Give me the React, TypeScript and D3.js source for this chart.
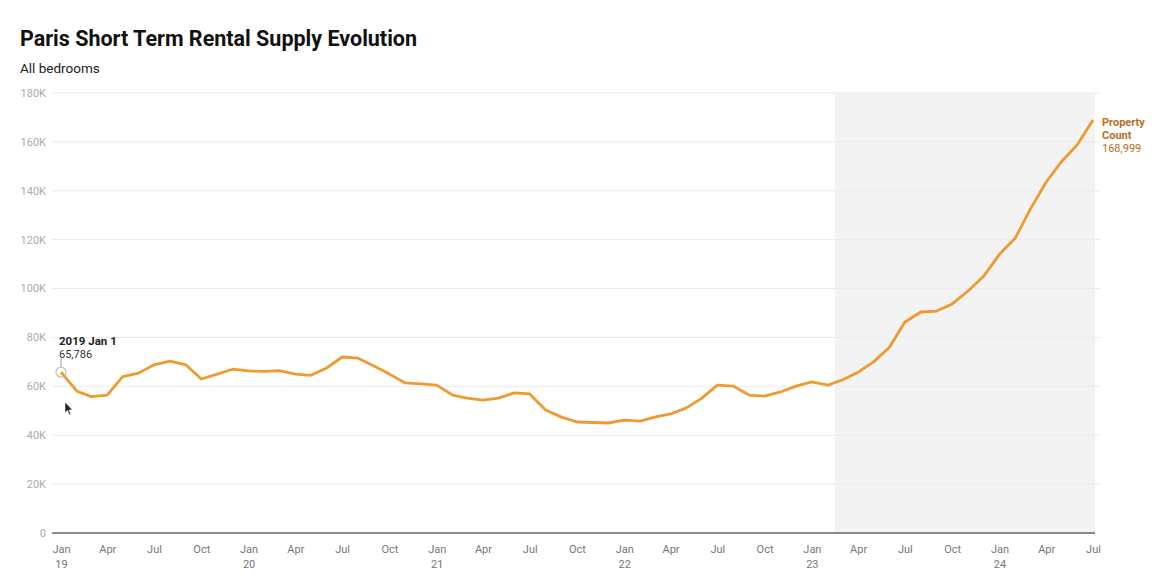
import { useEffect, useRef } from "react";
import { scaleUtc, scaleLinear, line, select, axisBottom, utcMonth, utcFormat, format } from "d3";

const startMonth = "2019-01";
const propertyCount = [
  65786, 58000, 55800, 56400, 64000, 65400, 68800, 70300, 68800, 63000, 65000, 67000,
  66300, 66100, 66400, 65000, 64500, 67500, 72000, 71500, 68300, 65000, 61400, 61000,
  60500, 56400, 55200, 54400, 55200, 57300, 56900, 50300, 47400, 45400, 45200, 45000,
  46200, 45800, 47400, 48700, 51100, 55200, 60500, 60100, 56400, 56000, 57700, 60100,
  61800, 60500, 62600, 65800, 70000, 76000, 86300, 90400, 90800, 93700, 99000, 105000,
  114000, 120700, 132500, 143600, 152000, 159000, 168999,
];
const yTicks = [0, 20000, 40000, 60000, 80000, 100000, 120000, 140000, 160000, 180000];
const shadeRange = ["2023-02-15", "2024-07-05"];
const seriesName = ["Property", "Count"];
const hoverLabel = "2019 Jan 1";

const W = 1160;
const H = 585;
const margin = { top: 93, right: 67, bottom: 52, left: 61 };
const lineColor = "#ef9a2e";
const labelColor = "#b5701f";
const font = "Roboto, 'Noto Sans', sans-serif";

const dates = propertyCount.map((_, i) =>
  utcMonth.offset(new Date(startMonth + "-01T00:00:00Z"), i)
);
const monthFmt = utcFormat("%b");
const yearFmt = utcFormat("%y");

function XAxis({ x, y }: { x: any; y: number }) {
  const ref = useRef<SVGGElement>(null);
  useEffect(() => {
    if (!ref.current) return;
    const g = select(ref.current);
    g.call(
      axisBottom(x)
        .ticks(utcMonth.every(3))
        .tickSize(0)
        .tickPadding(9)
        .tickFormat((d: any) => monthFmt(d))
    );
    g.select(".domain").remove();
    g.selectAll(".tick text")
      .attr("fill", "#777")
      .attr("font-size", 11)
      .attr("font-family", font)
      .each(function (d: any) {
        if (d.getUTCMonth() === 0) {
          select(this.parentNode as SVGGElement)
            .append("text")
            .attr("fill", "#777")
            .attr("font-size", 11)
            .attr("font-family", font)
            .attr("text-anchor", "middle")
            .attr("y", 24)
            .attr("dy", "0.71em")
            .text(yearFmt(d));
        }
      });
  }, [x]);
  return <g ref={ref} transform={`translate(0,${y})`} />;
}

export default function App() {
  const x = scaleUtc()
    .domain([dates[0], dates[dates.length - 1]])
    .range([margin.left, W - margin.right]);
  const y = scaleLinear().domain([0, 180000]).range([H - margin.bottom, margin.top]);

  const path = line<number>()
    .x((_, i) => x(dates[i]))
    .y((d) => y(d))(propertyCount);

  const shadeX0 = x(new Date(shadeRange[0]));
  const shadeX1 = x(new Date(shadeRange[1]));
  const last = propertyCount.length - 1;
  const fx = x(dates[0]);
  const fy = y(propertyCount[0]);
  const comma = format(",");

  return (
    <svg
      width={W}
      height={H}
      style={{ position: "absolute", left: 0, top: 0, background: "#fff" }}
      fontFamily={font}
    >
      <text x={20} y={46} fontSize={21.5} fontWeight={700} fill="#111">
        Paris Short Term Rental Supply Evolution
      </text>
      <text x={20} y={73} fontSize={13.5} fill="#222">
        All bedrooms
      </text>

      <rect
        x={shadeX0}
        y={y(180000)}
        width={shadeX1 - shadeX0}
        height={y(0) - y(180000)}
        fill="#f3f3f3"
      />

      {yTicks.map((t) => (
        <g key={t}>
          {t > 0 && (
            <line x1={52} x2={1100} y1={y(t)} y2={y(t)} stroke="#ebebeb" strokeWidth={1} />
          )}
          <text
            x={46}
            y={y(t)}
            dy="0.35em"
            textAnchor="end"
            fontSize={11}
            fill="#aaa"
          >
            {t === 0 ? "0" : `${t / 1000}K`}
          </text>
        </g>
      ))}
      <line x1={52} x2={1095} y1={y(0)} y2={y(0)} stroke="#666" strokeWidth={1.5} />

      <XAxis x={x} y={y(0) + 3} />

      <path d={path ?? ""} fill="none" stroke={lineColor} strokeWidth={2.8} strokeLinejoin="round" />

      {/* hover annotation */}
      <line x1={fx} x2={fx} y1={fy - 5} y2={fy - 14} stroke="#999" strokeWidth={1} />
      <circle cx={fx} cy={fy} r={5} fill="none" stroke="#bbb" strokeWidth={1.2} />
      <text x={fx - 2} y={345} fontSize={11.5} fontWeight={700} fill="#222">
        {hoverLabel}
      </text>
      <text x={fx - 2} y={358} fontSize={11} fill="#333">
        {comma(propertyCount[0])}
      </text>
      <path
        d="M65,402 L65,413 L67.5,410.5 L69.5,415 L71,414.3 L69,410 L72.5,410 Z"
        fill="#222"
        stroke="#fff"
        strokeWidth={0.6}
      />

      <text fontSize={11} fontWeight={700} fill={labelColor}>
        <tspan x={x(dates[last]) + 9} y={y(propertyCount[last]) + 6}>
          {seriesName[0]}
        </tspan>
        <tspan x={x(dates[last]) + 9} y={y(propertyCount[last]) + 19}>
          {seriesName[1]}
        </tspan>
      </text>
      <text
        x={x(dates[last]) + 9}
        y={y(propertyCount[last]) + 32}
        fontSize={11}
        fill={labelColor}
      >
        {comma(propertyCount[last])}
      </text>
    </svg>
  );
}
